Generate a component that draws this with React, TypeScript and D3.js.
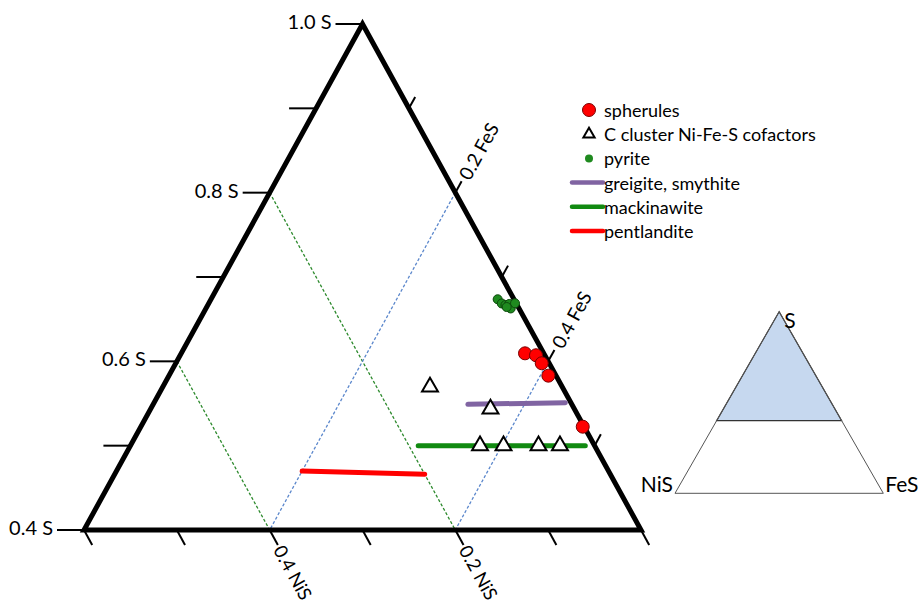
import React from 'react';
import * as d3 from 'd3';

// points are [S, FeS]; NiS = 1 - S - FeS
const spherules: [number, number][] = [
  [0.6095, 0.3703],
  [0.6072, 0.3833],
  [0.5977, 0.3942],
  [0.583, 0.4087],
  [0.5225, 0.476],
];

const cCluster: [number, number][] = [
  [0.5696, 0.2879],
  [0.5435, 0.3661],
  [0.5, 0.3766],
  [0.5, 0.4019],
  [0.5, 0.4396],
  [0.5, 0.4627],
];

const pyrite: [number, number][] = [
  [0.6736, 0.3088],
  [0.6686, 0.3157],
  [0.6668, 0.3206],
  [0.668, 0.3241],
  [0.6627, 0.3283],
  [0.6688, 0.3299],
  [0.6644, 0.3231],
];

const greigite: [number, number][] = [[0.549, 0.339], [0.551, 0.443]];
const mackinawite: [number, number][] = [[0.5, 0.31], [0.5, 0.49]];
const pentlandite: [number, number][] = [[0.47, 0.2], [0.466, 0.334]];

const sTicks = [0.4, 0.5, 0.6, 0.7, 0.8, 0.9, 1.0];
const sLabels = [0.4, 0.6, 0.8, 1.0];
const fesTicks = [0.1, 0.2, 0.3, 0.4, 0.5];
const fesLabels = [0.2, 0.4];
const nisTicks = [0, 0.1, 0.2, 0.3, 0.4, 0.5, 0.6];
const nisLabels = [0.2, 0.4];
const nisGrid = [0.2, 0.4];
const fesGrid = [0.2, 0.4];

const legendItems = [
  { label: 'spherules', kind: 'circle', color: '#ff0000' },
  { label: 'C cluster Ni-Fe-S cofactors', kind: 'triangle', color: '#000' },
  { label: 'pyrite', kind: 'dot', color: '#1f8a1f' },
  { label: 'greigite, smythite', kind: 'line', color: '#8064a2' },
  { label: 'mackinawite', kind: 'line', color: '#118a11' },
  { label: 'pentlandite', kind: 'line', color: '#ff0000' },
];

const FONT = 'Lato, "Open Sans", sans-serif';

export default function App() {
  // main ternary, S from 0.4 to 1
  const yS = d3.scaleLinear().domain([0.4, 1]).range([530, 24]);
  const xD = d3.scaleLinear().domain([-0.6, 0.6]).range([84, 641]);
  const proj = (s: number, fes: number): [number, number] => {
    const nis = 1 - s - fes;
    return [xD(fes - nis), yS(s)];
  };

  // inset ternary, full range
  const yIn = d3.scaleLinear().domain([0, 1]).range([493.3, 311.7]);
  const xIn = d3.scaleLinear().domain([-1, 1]).range([675, 883.3]);
  const projIn = (s: number, fes: number): [number, number] => {
    const nis = 1 - s - fes;
    return [xIn(fes - nis), yIn(s)];
  };

  const line = d3.line<[number, number]>().x((d) => proj(d[0], d[1])[0]).y((d) => proj(d[0], d[1])[1]);

  const top = proj(1, 0);
  const bl = proj(0.4, 0);
  const br = proj(0.4, 0.6);

  const norm = (a: [number, number], b: [number, number]) => {
    const dx = b[0] - a[0], dy = b[1] - a[1];
    const l = Math.sqrt(dx * dx + dy * dy);
    return [dx / l, dy / l];
  };
  const u = norm(bl, top); // up-right, FeS ticks
  const v = norm(top, br); // down-right, NiS ticks
  const angU = (Math.atan2(u[1], u[0]) * 180) / Math.PI;
  const angV = (Math.atan2(v[1], v[0]) * 180) / Math.PI;

  const tri = d3.symbol().type(d3.symbolTriangle).size(110)();
  const triSmall = d3.symbol().type(d3.symbolTriangle).size(55)();

  const fmt = d3.format('.1f');

  const legendY = d3.scalePoint().domain(legendItems.map((d) => d.label)).range([110, 231]);

  return (
    <svg width={920} height={606} style={{ position: 'absolute', left: 0, top: 0, background: '#fff' }}>
      {/* grid lines */}
      {nisGrid.map((c) => {
        const a = proj(1 - c, 0);
        const b = proj(0.4, 0.6 - c);
        return <line key={'ng' + c} x1={a[0]} y1={a[1]} x2={b[0]} y2={b[1]} stroke="#2d8a2d" strokeWidth={1.3} strokeDasharray="3 2" />;
      })}
      {fesGrid.map((c) => {
        const a = proj(1 - c, c);
        const b = proj(0.4, c);
        return <line key={'fg' + c} x1={a[0]} y1={a[1]} x2={b[0]} y2={b[1]} stroke="#5b87cc" strokeWidth={1.3} strokeDasharray="3 2" />;
      })}

      {/* ticks */}
      {sTicks.map((s) => {
        const p = proj(s, 0);
        return <line key={'st' + s} x1={p[0] - 27} y1={p[1]} x2={p[0]} y2={p[1]} stroke="#000" strokeWidth={2} />;
      })}
      {fesTicks.map((c) => {
        const p = proj(1 - c, c);
        return <line key={'ft' + c} x1={p[0]} y1={p[1]} x2={p[0] + 13 * u[0]} y2={p[1] + 13 * u[1]} stroke="#000" strokeWidth={2} />;
      })}
      {nisTicks.map((c) => {
        const p = proj(0.4, 0.6 - c);
        return <line key={'nt' + c} x1={p[0]} y1={p[1]} x2={p[0] + 17 * v[0]} y2={p[1] + 17 * v[1]} stroke="#000" strokeWidth={2} />;
      })}

      {/* triangle frame */}
      <path d={`M${top[0]},${top[1]}L${bl[0]},${bl[1]}L${br[0]},${br[1]}Z`} fill="none" stroke="#000" strokeWidth={5} strokeLinejoin="miter" />

      {/* axis labels */}
      {sLabels.map((s) => {
        const p = proj(s, 0);
        return (
          <text key={'sl' + s} x={p[0] - 31} y={p[1] + 5} textAnchor="end" fontFamily={FONT} fontSize={20} fill="#000">
            {fmt(s)} S
          </text>
        );
      })}
      {fesLabels.map((c) => {
        const p = proj(1 - c, c);
        const x = p[0] + 17 * u[0], y = p[1] + 17 * u[1];
        return (
          <text key={'fl' + c} x={x} y={y} transform={`rotate(${angU},${x},${y})`} dominantBaseline="central" fontFamily={FONT} fontSize={19} fill="#000">
            {fmt(c)} FeS
          </text>
        );
      })}
      {nisLabels.map((c) => {
        const p = proj(0.4, 0.6 - c);
        const x = p[0] + 19 * v[0], y = p[1] + 19 * v[1];
        return (
          <text key={'nl' + c} x={x} y={y} transform={`rotate(${angV},${x},${y})`} dominantBaseline="central" fontFamily={FONT} fontSize={18.5} fill="#000">
            {fmt(c)} NiS
          </text>
        );
      })}

      {/* mineral lines */}
      <path d={line(pentlandite) || ''} stroke="#ff0000" strokeWidth={5} strokeLinecap="round" fill="none" />
      <path d={line(greigite) || ''} stroke="#8064a2" strokeWidth={5} strokeLinecap="round" fill="none" />
      <path d={line(mackinawite) || ''} stroke="#118a11" strokeWidth={5} strokeLinecap="round" fill="none" />

      {/* points */}
      {cCluster.map((d, i) => {
        const p = proj(d[0], d[1]);
        return <path key={'cc' + i} d={tri || ''} transform={`translate(${p[0]},${p[1]})`} fill="#fff" stroke="#000" strokeWidth={2} />;
      })}
      {pyrite.map((d, i) => {
        const p = proj(d[0], d[1]);
        return <circle key={'py' + i} cx={p[0]} cy={p[1]} r={4.5} fill="#1f8a1f" stroke="#0d4a0d" strokeWidth={1} />;
      })}
      {spherules.map((d, i) => {
        const p = proj(d[0], d[1]);
        return <circle key={'sp' + i} cx={p[0]} cy={p[1]} r={6.5} fill="#ff0000" stroke="#7a0000" strokeWidth={1} />;
      })}

      {/* legend */}
      {legendItems.map((it) => {
        const y = legendY(it.label) || 0;
        let mark: React.ReactNode = null;
        if (it.kind === 'circle') mark = <circle cx={589} cy={y} r={6.5} fill={it.color} stroke="#7a0000" strokeWidth={1} />;
        else if (it.kind === 'triangle') mark = <path d={triSmall || ''} transform={`translate(589,${y})`} fill="#fff" stroke="#000" strokeWidth={2} />;
        else if (it.kind === 'dot') mark = <circle cx={589} cy={y} r={4} fill={it.color} />;
        else mark = <line x1={572} y1={y} x2={603} y2={y} stroke={it.color} strokeWidth={4.5} strokeLinecap="round" />;
        return (
          <g key={it.label}>
            {mark}
            <text x={604} y={y} dominantBaseline="central" fontFamily={FONT} fontSize={18} fill="#000">
              {it.label}
            </text>
          </g>
        );
      })}

      {/* inset */}
      {(() => {
        const t = projIn(1, 0);
        const a = projIn(0, 0);
        const b = projIn(0, 1);
        const l = projIn(0.4, 0);
        const r = projIn(0.4, 0.6);
        return (
          <g>
            <path d={`M${t[0]},${t[1]}L${l[0]},${l[1]}L${r[0]},${r[1]}Z`} fill="#c6d8ef" stroke="#333" strokeWidth={1.2} />
            <path d={`M${t[0]},${t[1]}L${a[0]},${a[1]}L${b[0]},${b[1]}Z`} fill="none" stroke="#555" strokeWidth={1} />
            <text x={t[0] + 5} y={t[1] + 16} fontFamily={FONT} fontSize={21} fill="#000">S</text>
            <text x={a[0] - 2} y={a[1] - 1} textAnchor="end" fontFamily={FONT} fontSize={21} fill="#000">NiS</text>
            <text x={b[0] + 2} y={b[1] - 1} fontFamily={FONT} fontSize={21} fill="#000">FeS</text>
          </g>
        );
      })()}
    </svg>
  );
}
